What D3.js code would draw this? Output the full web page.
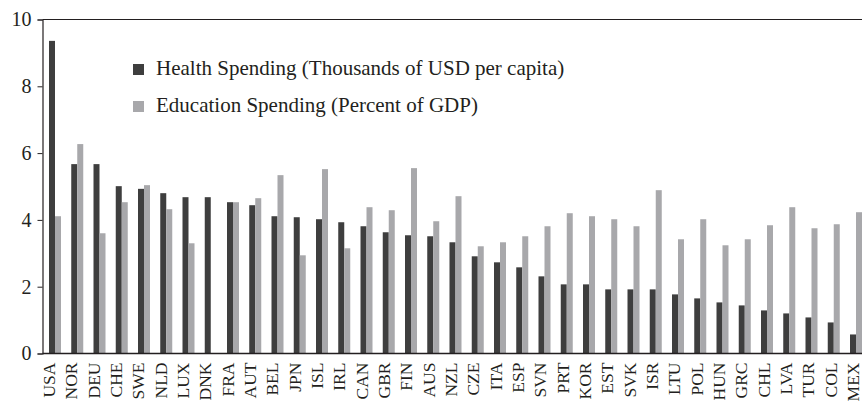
<!DOCTYPE html>
<html>
<head>
<meta charset="utf-8">
<script src="https://cdn.jsdelivr.net/npm/d3@7/dist/d3.min.js"></script>
<style>
  html, body { margin: 0; padding: 0; background: #fff; }
  svg { display: block; }
</style>
</head>
<body>
<svg id="chart" width="862" height="407" font-family="Liberation Serif"></svg>
<script>
const countries = ["USA","NOR","DEU","CHE","SWE","NLD","LUX","DNK","FRA","AUT","BEL","JPN","ISL","IRL","CAN","GBR","FIN","AUS","NZL","CZE","ITA","ESP","SVN","PRT","KOR","EST","SVK","ISR","LTU","POL","HUN","GRC","CHL","LVA","TUR","COL","MEX"];
const health = [9.36,5.67,5.67,5.01,4.93,4.80,4.68,4.68,4.53,4.44,4.11,4.08,4.02,3.93,3.81,3.63,3.54,3.51,3.33,2.91,2.73,2.58,2.31,2.07,2.07,1.92,1.92,1.92,1.77,1.65,1.53,1.44,1.29,1.20,1.08,0.93,0.57];
const education = [4.11,6.27,3.60,4.53,5.04,4.32,3.30,null,4.53,4.65,5.34,2.94,5.52,3.15,4.38,4.29,5.55,3.96,4.71,3.21,3.33,3.51,3.81,4.20,4.11,4.02,3.81,4.89,3.42,4.02,3.24,3.42,3.84,4.38,3.75,3.87,4.23];
const seriesNames = ["Health Spending (Thousands of USD per capita)", "Education Spending (Percent of GDP)"];
const yTicks = [0, 2, 4, 6, 8, 10];

const colors = ["#3e3e3e", "#a8a8ab"];
const FONT = "Liberation Serif";
const INK = "#231f20";
const svg = d3.select("#chart");
const W = 862;

const y = d3.scaleLinear().domain([0, 10]).range([353.5, 19.5]);
const x = d3.scaleBand().domain(countries).range([44, 44 + 37 * 22.25]).padding(0);
const xs = d3.scaleBand().domain([0, 1]).range([5, 17]).padding(0);
const xl = d3.scalePoint().domain(countries).range([48.5, 852.5]);

const rows = countries.map((c, i) => ({ c, vals: [health[i], education[i]] }));

// bars
const g = svg.append("g");
rows.forEach(r => {
  r.vals.forEach((v, k) => {
    if (v == null) return;
    g.append("rect")
      .attr("x", x(r.c) + xs(k))
      .attr("width", xs.bandwidth())
      .attr("y", y(v))
      .attr("height", y(0) - y(v))
      .attr("fill", colors[k]);
  });
});

// frame lines
svg.append("line").attr("x1", 42.5).attr("x2", W).attr("y1", 19.5).attr("y2", 19.5)
  .attr("stroke", INK).attr("stroke-width", 1.2);
svg.append("line").attr("x1", 42.5).attr("x2", W).attr("y1", y(0)).attr("y2", y(0))
  .attr("stroke", INK).attr("stroke-width", 1.4);

// y axis
const yAxis = d3.axisLeft(y).tickValues(yTicks).tickSize(5).tickPadding(6).tickFormat(d3.format("d"));
const ya = svg.append("g").attr("transform", "translate(42.5,0)").call(yAxis);
ya.attr("font-family", FONT).attr("font-size", 20);
ya.select(".domain").attr("stroke", INK).attr("stroke-width", 1.2);
ya.selectAll(".tick line").attr("stroke", INK);
ya.selectAll(".tick text").attr("font-family", FONT).attr("font-size", 20).attr("fill", INK);

// x labels
const xAxis = d3.axisBottom(xl).tickSize(0).tickPadding(0);
const xa = svg.append("g").attr("transform", `translate(0,${y(0)})`).call(xAxis);
xa.attr("font-family", FONT).attr("font-size", 17.5);
xa.select(".domain").remove();
xa.selectAll(".tick text")
  .attr("font-family", FONT).attr("font-size", 17.5)
  .attr("fill", INK)
  .attr("text-anchor", "end")
  .attr("transform", "rotate(-90)")
  .attr("x", -9).attr("y", 0).attr("dy", "0.34em");

// legend
const legend = svg.append("g");
seriesNames.forEach((name, k) => {
  const ly = 64 + k * 37;
  legend.append("rect").attr("x", 133).attr("y", ly).attr("width", 11).attr("height", 11).attr("fill", colors[k]);
  legend.append("text").attr("x", 156).attr("y", ly + 10.5)
    .attr("font-family", FONT).attr("font-size", 21).attr("fill", INK).text(name);
});
</script>
</body>
</html>
